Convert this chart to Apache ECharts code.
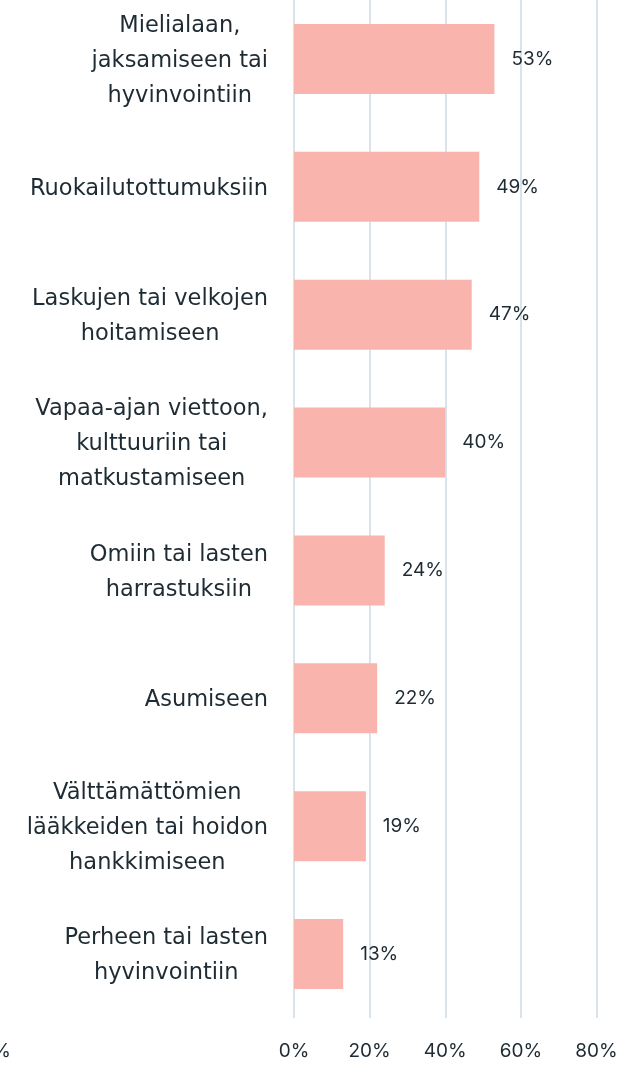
<!DOCTYPE html>
<html>
<head>
<meta charset="utf-8">
<script src="https://cdn.jsdelivr.net/npm/echarts@6/dist/echarts.min.js"></script>
<style>
html,body{margin:0;padding:0;background:#fff;}
#chart{width:622px;height:1065px;}
</style>
</head>
<body>
<div id="chart"></div>
<script>
const categories = [
  "Mielialaan,\njaksamiseen tai\nhyvinvointiin",
  "Ruokailutottumuksiin",
  "Laskujen tai velkojen\nhoitamiseen",
  "Vapaa-ajan viettoon,\nkulttuuriin tai\nmatkustamiseen",
  "Omiin tai lasten\nharrastuksiin",
  "Asumiseen",
  "Välttämättömien\nlääkkeiden tai hoidon\nhankkimiseen",
  "Perheen tai lasten\nhyvinvointiin"
];
const values = [53, 49, 47, 40, 24, 22, 19, 13];
const xTicks = [0, 20, 40, 60, 80];

const FONT = 'Inter';
const CAT_FONT = '"DejaVu Sans"';
const TXT = '#1e2b33';

const chart = echarts.init(document.getElementById('chart'), null, {renderer: 'canvas'});
chart.setOption({
  animation: false,
  backgroundColor: '#fff',
  grid: {left: 294, right: 25.5, top: -5, bottom: 47, containLabel: false, outerBoundsMode: 'none'},
  xAxis: {
    type: 'value', min: 0, max: 80, interval: 20,
    axisLine: {show: false}, axisTick: {show: false},
    splitLine: {show: true, lineStyle: {color: '#d8e3eb', width: 2}},
    axisLabel: {
      margin: 24, color: TXT, fontFamily: FONT, fontSize: 19,
      formatter: v => xTicks.includes(v) ? v + '%' : ''
    }
  },
  yAxis: {
    type: 'category', inverse: true, data: categories,
    axisLine: {show: false}, axisTick: {show: false},
    axisLabel: {
      margin: 26, align: 'right', color: TXT, fontFamily: CAT_FONT, fontSize: 22.5,
      padding: [4, 0, 0, 0],
      formatter: v => v.split('\n').map(l => '{c|' + l + '}').join('\n'),
      rich: {c: {align: 'center', color: TXT, fontFamily: CAT_FONT, fontSize: 22.5, lineHeight: 35}}
    }
  },
  series: [{
    type: 'bar', data: values, barWidth: 70,
    itemStyle: {color: '#f9b4ae'},
    label: {
      show: true, position: 'right', distance: 17,
      color: TXT, fontFamily: FONT, fontSize: 19,
      formatter: p => p.value + '%'
    }
  }],
  graphic: [{
    type: 'text', x: 11, y: 1051,
    style: {text: '%', fill: TXT, font: '19px ' + FONT, textAlign: 'right', textVerticalAlign: 'middle'}
  }]
});
</script>
</body>
</html>
